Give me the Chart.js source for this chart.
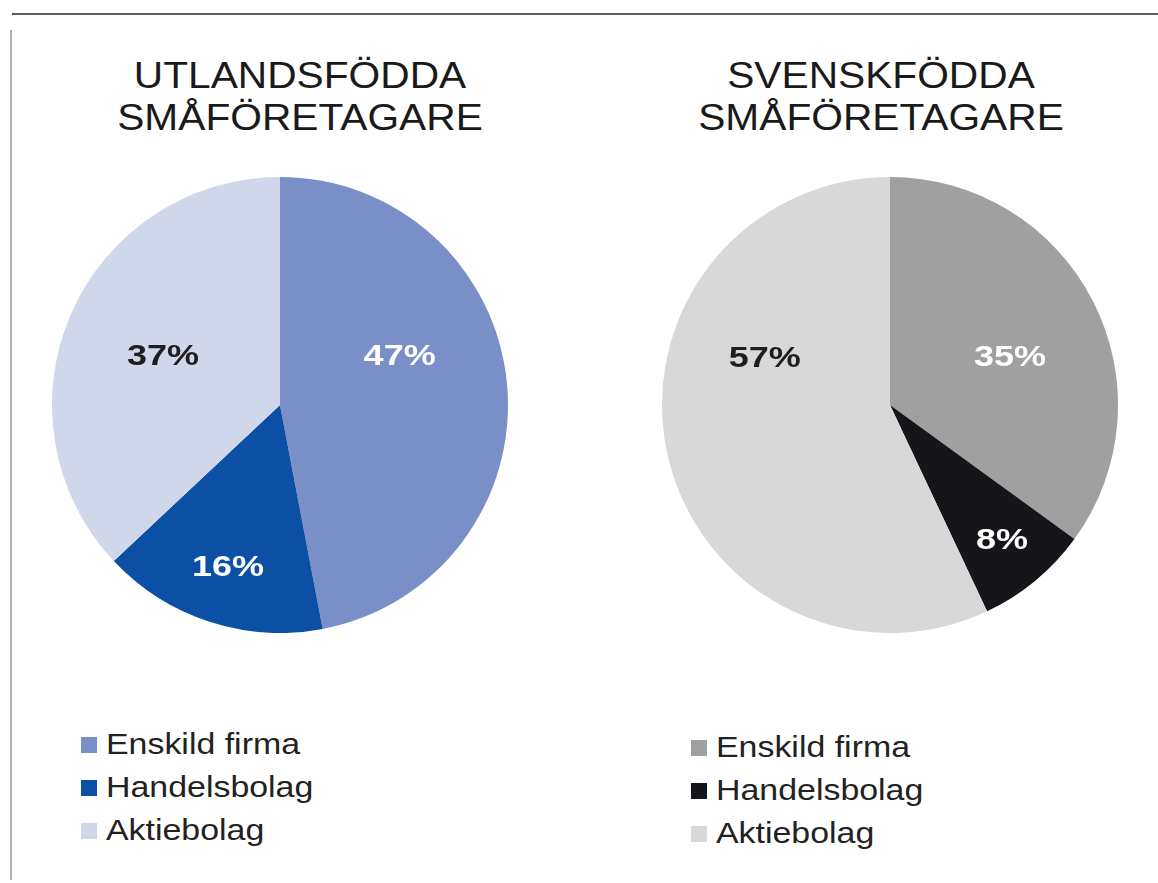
<!DOCTYPE html>
<html>
<head>
<meta charset="utf-8">
<script src="https://cdn.jsdelivr.net/npm/chart.js@4.4.0/dist/chart.umd.min.js"></script>
<style>
  html, body { margin: 0; padding: 0; background: #fff; }
  body { width: 1158px; height: 883px; position: relative; overflow: hidden; font-family: 'Liberation Sans', Arial, sans-serif; }
  .frame-top { position: absolute; left: 12px; top: 13px; width: 1146px; height: 2px; background: #5a5a5a; }
  .frame-left { position: absolute; left: 10px; top: 30px; width: 2px; height: 850px; background: #b0b0b0; }
  .title { position: absolute; width: 500px; text-align: center; font-size: 37px; line-height: 42px; color: #1a1a1a; transform: scaleX(1.1); }
  .pie { position: absolute; width: 456px; height: 456px; }
  .legend { position: absolute; font-size: 30px; color: #222; }
  .legend div { height: 43px; line-height: 43px; white-space: nowrap; }
  .legend span.sw { display: inline-block; width: 16px; height: 16px; margin-right: 9px; vertical-align: 1px; }
  .legend span.tx { display: inline-block; transform: scaleX(1.13); transform-origin: left center; }
</style>
</head>
<body>
<div class="frame-top"></div>
<div class="frame-left"></div>

<div class="title" style="left:50px; top:55px;">UTLANDSFÖDDA<br>SMÅFÖRETAGARE</div>
<div class="title" style="left:631px; top:55px;">SVENSKFÖDDA<br>SMÅFÖRETAGARE</div>

<canvas id="pieLeft" class="pie" width="456" height="456" style="left:52px; top:177px;"></canvas>
<canvas id="pieRight" class="pie" width="456" height="456" style="left:662px; top:177px;"></canvas>

<div id="legendLeft" class="legend" style="left:81px; top:722px;"></div>
<div id="legendRight" class="legend" style="left:691px; top:725px;"></div>

<script>
  var categories = ['Enskild firma', 'Handelsbolag', 'Aktiebolag'];
  var utlandsfodda = [47, 16, 37];
  var svenskfodda = [35, 8, 57];

  var colorsLeft = ['#7a8fc7', '#0b50a4', '#d1d7eb'];
  var colorsRight = ['#a0a0a0', '#15151a', '#d8d8d8'];
  var labelColorsLeft = ['#ffffff', '#ffffff', '#1e1e1e'];
  var labelColorsRight = ['#ffffff', '#ffffff', '#1e1e1e'];
  // label placement: angle (deg, clockwise from top) and radius fraction
  var labelPlaceLeft = [[68, 0.566], [197.7, 0.75], [292.3, 0.555]];
  var labelPlaceRight = [[68.6, 0.565], [140.5, 0.772], [290.2, 0.585]];

  var pctLabels = {
    id: 'pctLabels',
    afterDatasetsDraw: function (chart) {
      var o = chart.options.plugins.pctLabels;
      var meta = chart.getDatasetMeta(0);
      var ctx = chart.ctx;
      meta.data.forEach(function (arc, i) {
        var a = o.place[i][0] * Math.PI / 180;
        var r = arc.outerRadius * o.place[i][1];
        var x = arc.x + r * Math.sin(a);
        var y = arc.y - r * Math.cos(a);
        ctx.save();
        ctx.translate(x, y);
        ctx.scale(1.2, 1);
        ctx.font = 'bold 30px "Liberation Sans", Arial, sans-serif';
        ctx.textAlign = 'center';
        ctx.textBaseline = 'middle';
        ctx.fillStyle = o.colors[i];
        ctx.fillText(chart.data.datasets[0].data[i] + '%', 0, 0);
        ctx.restore();
      });
    }
  };

  function makePie(id, values, colors, labelColors, place) {
    return new Chart(document.getElementById(id), {
      type: 'pie',
      data: {
        labels: categories,
        datasets: [{ data: values, backgroundColor: colors, borderWidth: 0 }]
      },
      options: {
        responsive: false,
        animation: false,
        layout: { padding: 0 },
        plugins: {
          legend: { display: false },
          tooltip: { enabled: false },
          pctLabels: { colors: labelColors, place: place }
        }
      },
      plugins: [pctLabels]
    });
  }

  function makeLegend(id, colors) {
    document.getElementById(id).innerHTML = categories.map(function (c, i) {
      return '<div><span class="sw" style="background:' + colors[i] + '"></span><span class="tx">' + c + '</span></div>';
    }).join('');
  }

  makePie('pieLeft', utlandsfodda, colorsLeft, labelColorsLeft, labelPlaceLeft);
  makePie('pieRight', svenskfodda, colorsRight, labelColorsRight, labelPlaceRight);
  makeLegend('legendLeft', colorsLeft);
  makeLegend('legendRight', colorsRight);
</script>
</body>
</html>
